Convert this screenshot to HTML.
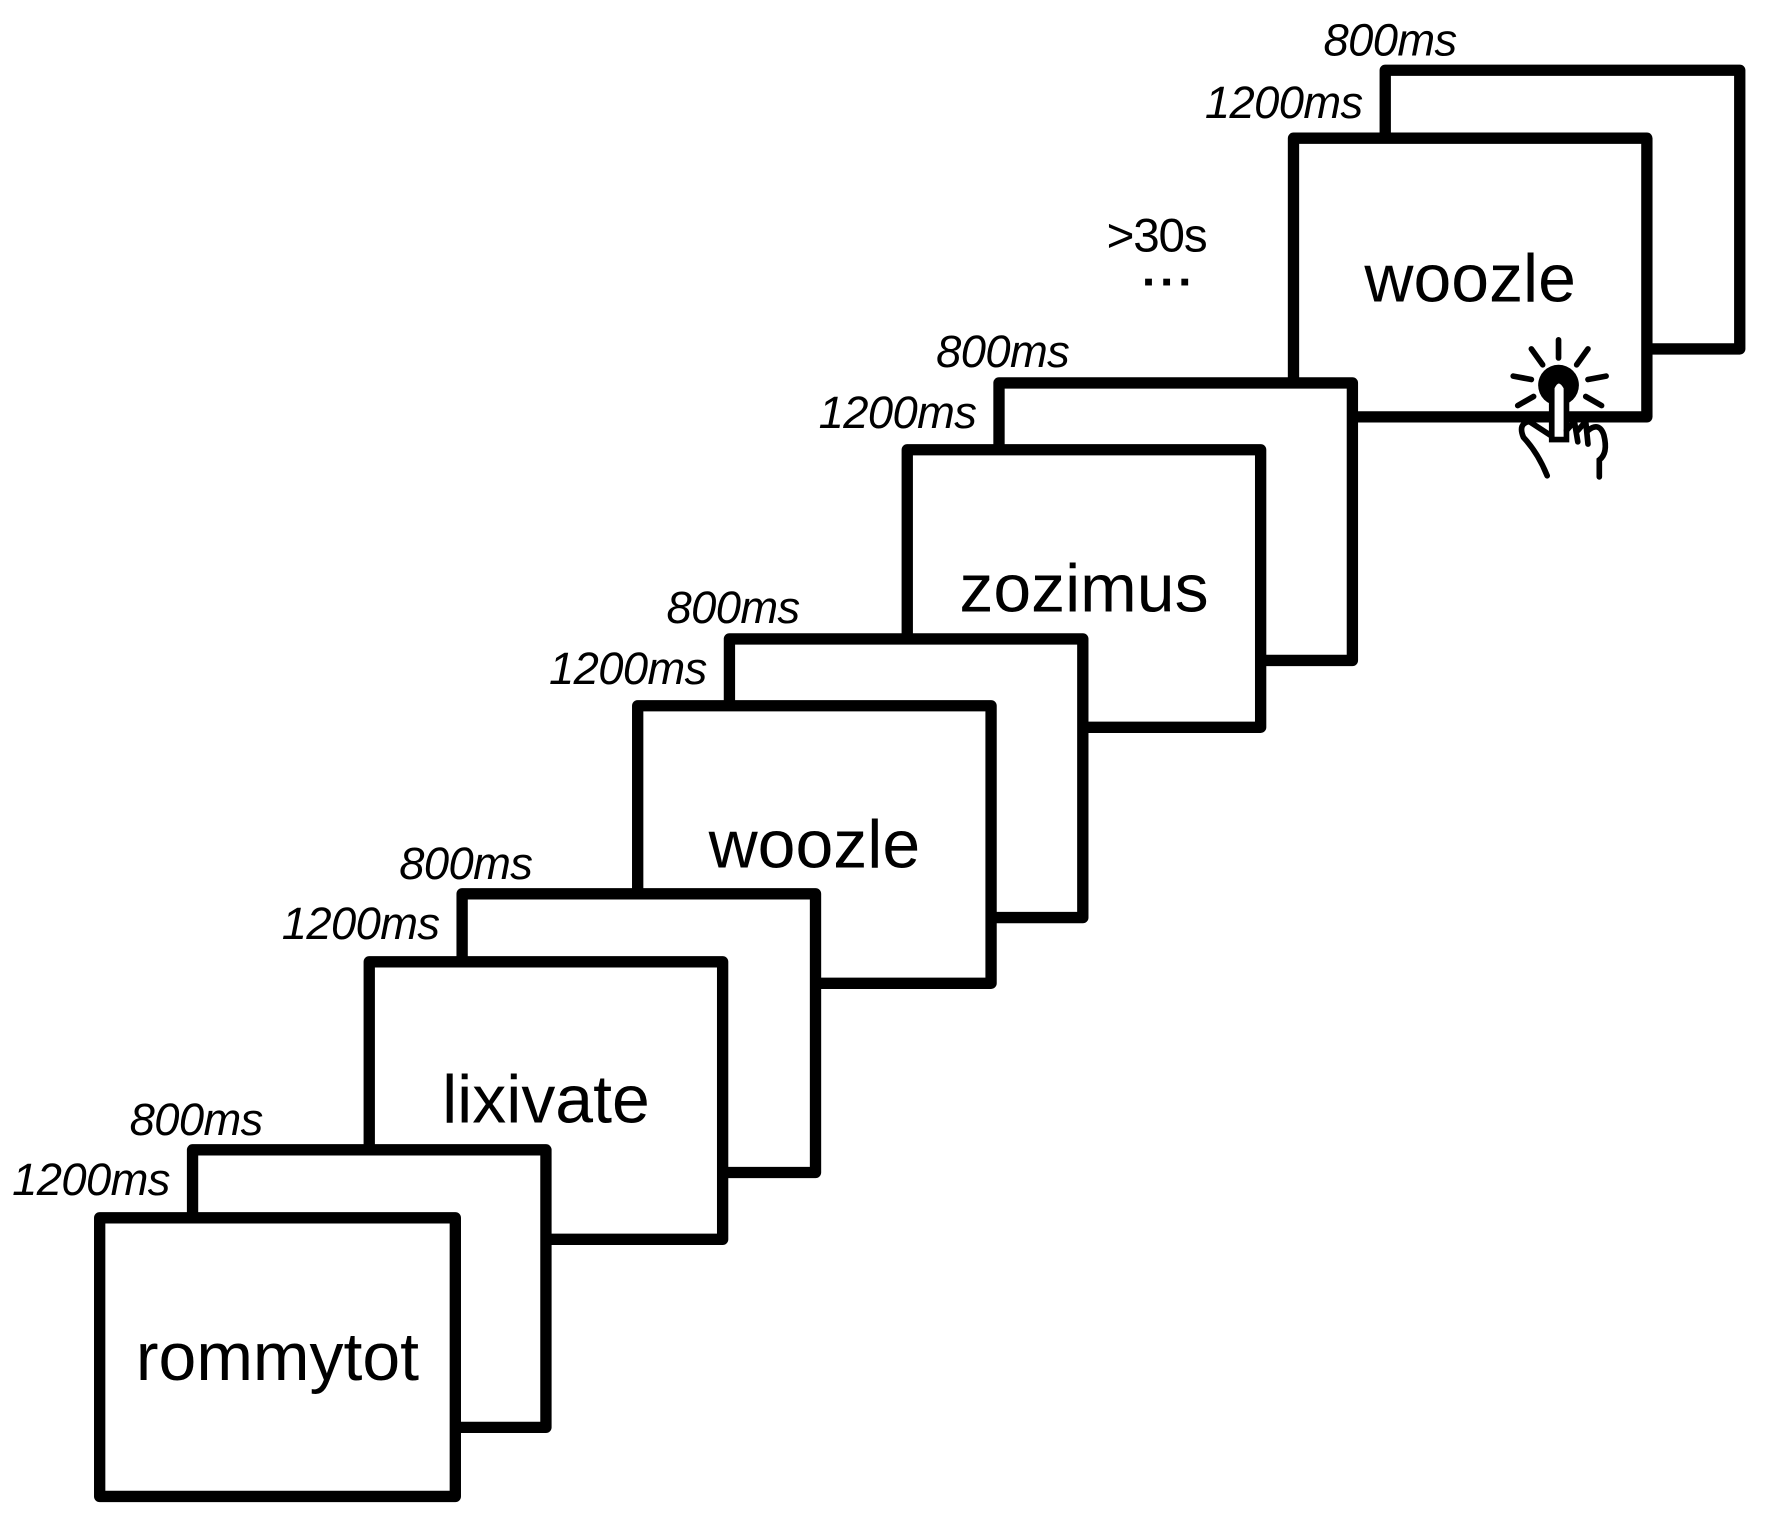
<!DOCTYPE html>
<html><head><meta charset="utf-8"><style>
html,body{margin:0;padding:0;background:#fff;}
svg{display:block;}
text{font-family:"Liberation Sans",sans-serif;fill:#000;}
.t{font-style:italic;font-size:40px;letter-spacing:-0.5px;}
.w{font-size:60px;text-anchor:middle;}
</style></head><body>
<svg width="1776" height="1518" viewBox="0 0 1568 1340" preserveAspectRatio="none" xmlns="http://www.w3.org/2000/svg">
<g fill="#fff" stroke="#000" stroke-width="10" stroke-linejoin="round">
  <rect x="1223" y="62" width="313" height="246"/>
  <rect x="1142" y="122" width="312" height="246"/>
  <rect x="882" y="338" width="312" height="245"/>
  <rect x="801" y="397" width="312" height="245"/>
  <rect x="644" y="564" width="312" height="246"/>
  <rect x="563" y="623" width="312" height="245"/>
  <rect x="408" y="789" width="312" height="246"/>
  <rect x="326" y="849" width="312" height="245"/>
  <rect x="170" y="1015" width="312" height="245"/>
  <rect x="88" y="1075" width="314" height="246"/>
</g>
<text class="w" x="245" y="1218">rommytot</text>
<text class="w" x="482" y="991">lixivate</text>
<text class="w" x="719" y="766">woozle</text>
<text class="w" x="957" y="540">zozimus</text>
<text class="w" x="1298" y="266">woozle</text>

<text class="t" x="150" y="1055" text-anchor="end">1200ms</text>
<text class="t" x="232" y="1002" text-anchor="end">800ms</text>
<text class="t" x="388" y="829" text-anchor="end">1200ms</text>
<text class="t" x="470" y="776" text-anchor="end">800ms</text>
<text class="t" x="624" y="604" text-anchor="end">1200ms</text>
<text class="t" x="706" y="550" text-anchor="end">800ms</text>
<text class="t" x="862" y="378" text-anchor="end">1200ms</text>
<text class="t" x="944" y="324" text-anchor="end">800ms</text>
<text class="t" x="1203" y="104" text-anchor="end">1200ms</text>
<text class="t" x="1286" y="49" text-anchor="end">800ms</text>

<text x="977" y="222" style="font-size:42px;letter-spacing:-1px">&gt;30s</text>
<rect x="1011" y="246" width="6" height="6"/>
<rect x="1027" y="246" width="6" height="6"/>
<rect x="1043" y="246" width="6" height="6"/>

<g stroke="#000" stroke-width="5" stroke-linecap="round" fill="none">
  <line x1="1376" y1="300" x2="1376" y2="316"/>
  <line x1="1352" y1="308" x2="1362" y2="322"/>
  <line x1="1402" y1="308" x2="1392" y2="322"/>
  <line x1="1336" y1="332" x2="1352" y2="335"/>
  <line x1="1418" y1="332" x2="1402" y2="335"/>
  <line x1="1340" y1="358" x2="1354" y2="350"/>
  <line x1="1414" y1="358" x2="1400" y2="350"/>
</g>
<circle cx="1376" cy="340" r="18" fill="#000"/>
<path d="M1370 388 L1370 342 Q1376 330 1383 342 L1383 388 Z" fill="#fff" stroke="#000" stroke-width="5"/>
<g stroke="#000" stroke-width="5" fill="none" stroke-linecap="round">
  <path d="M1370 385 L1350 372 Q1340 374 1345 386 Q1358 400 1366 420"/>
  <path d="M1383 380 L1390 372 L1393 390"/>
  <path d="M1393 380 L1400 372 L1402 392"/>
  <path d="M1402 380 Q1412 372 1416 384 Q1420 400 1412 406 L1412 421"/>
</g>
</svg>
</body></html>
